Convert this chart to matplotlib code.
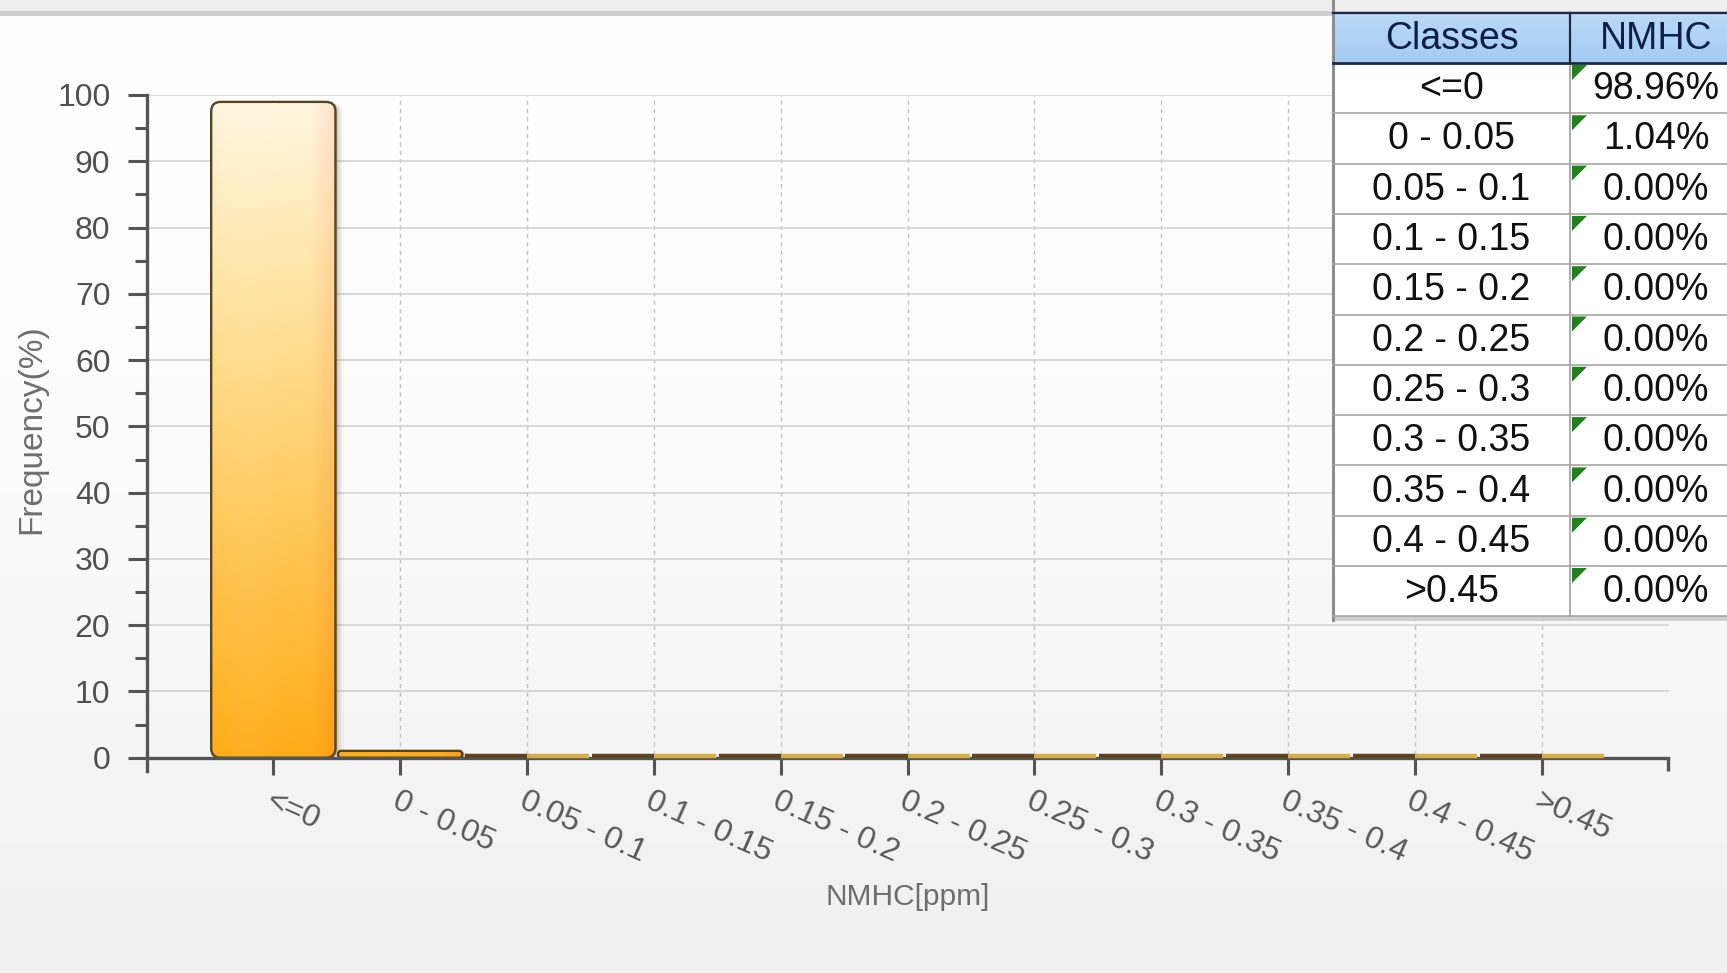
import numpy as np
import matplotlib
matplotlib.use('Agg')
import matplotlib.pyplot as plt
from matplotlib.patches import FancyBboxPatch, Rectangle, Polygon
from matplotlib.colors import LinearSegmentedColormap
from matplotlib.collections import LineCollection
import matplotlib.transforms as mtransforms

# ---------------- data ----------------
classes = ['<=0', '0 - 0.05', '0.05 - 0.1', '0.1 - 0.15', '0.15 - 0.2', '0.2 - 0.25',
           '0.25 - 0.3', '0.3 - 0.35', '0.35 - 0.4', '0.4 - 0.45', '>0.45']
frequency = [98.96, 1.04, 0.0, 0.0, 0.0, 0.0, 0.0, 0.0, 0.0, 0.0, 0.0]
y_ticks = [0, 10, 20, 30, 40, 50, 60, 70, 80, 90, 100]
series_name = 'NMHC'
table_header = 'Classes'
x_label = 'NMHC[ppm]'
y_label = 'Frequency(%)'

plt.rcParams['font.family'] = ['Liberation Sans', 'DejaVu Sans']

W, H = 1727, 973
fig = plt.figure(figsize=(W / 100, H / 100), dpi=100)

# ---------------- background ----------------
bg = fig.add_axes([0, 0, 1, 1], zorder=-10)
grad = np.linspace(0, 1, 256)[:, None]
cmap_bg = LinearSegmentedColormap.from_list('bg', ['#ffffff', '#fbfbfb', '#f0f0f0'])
bg.imshow(grad, extent=(0, W, H, 16), cmap=cmap_bg, aspect='auto', origin='upper')
bg.add_patch(Rectangle((0, 0), W, 11, facecolor='#efefef', edgecolor='none'))
bg.add_patch(Rectangle((0, 11), W, 5, facecolor='#cfcfcf', edgecolor='none'))
bg.set_xlim(0, W)
bg.set_ylim(H, 0)
bg.axis('off')

# ---------------- main axes ----------------
ax_left, ax_bottom, ax_w, ax_h = 146.5, 202.0, 1522.0, 676.0
ax = fig.add_axes([ax_left / W, ax_bottom / H, ax_w / W, ax_h / H])
ax.set_facecolor('none')
xpos = np.arange(len(classes))
XMIN, XMAX, YMIN, YMAX = -1, len(classes), -2, 100
px_x = (XMAX - XMIN) / ax_w      # data units per pixel (x)
px_y = (YMAX - YMIN) / ax_h      # data units per pixel (y)
asp = px_y / px_x

bars = ax.bar(xpos, frequency, width=0.98, color='none', edgecolor='none', zorder=3)

# gradient for filled bars (mapped on the full 0..100 value range)
def bar_gradient(n=256, m=60):
    t = np.linspace(0, 1, n)
    stops_t = [0.0, 0.35, 0.7, 1.0]
    stops_c = np.array([[255, 172, 24], [255, 200, 88], [255, 227, 160], [255, 246, 226]]) / 255.0
    col = np.stack([np.interp(t, stops_t, stops_c[:, k]) for k in range(3)], axis=1)
    img = np.repeat(col[:, None, :], m, axis=1)
    hx = np.linspace(0, 1, m)
    dark = np.clip((hx - 0.8) / 0.2, 0, 1)[None, :, None] * 0.08
    light = np.exp(-((hx - 0.3) / 0.2) ** 2)[None, :, None] * 0.04
    img = img * (1 - dark * np.array([0, 1, 1])) + light * (1 - img)
    return np.clip(img, 0, 1)

grad_img = bar_gradient()
shift_up = mtransforms.ScaledTranslation(0, 2.0 / 100, fig.dpi_scale_trans)
segs_dark, segs_gold = [], []
for rect in bars:
    x0, w, h = rect.get_x(), rect.get_width(), rect.get_height()
    if h > 0:
        r = min(0.075, 0.9 * h / (2 * asp))
        style = f'round,pad=0,rounding_size={r}'
        for k, a in zip([2, 4, 6, 8], [0.18, 0.12, 0.07, 0.04]):
            sh = FancyBboxPatch((x0 + k * px_x, -k * 0.3 * px_y), w, h, boxstyle=style,
                                mutation_aspect=asp, facecolor='#6a5a3a', edgecolor='none',
                                alpha=a, zorder=3)
            ax.add_patch(sh)
        patch = FancyBboxPatch((x0, 0), w, h, boxstyle=style, mutation_aspect=asp,
                               facecolor='none', edgecolor='#55441c', lw=1.7, zorder=5)
        ax.add_patch(patch)
        im = ax.imshow(grad_img, extent=(x0, x0 + w, 0, YMAX), aspect='auto', origin='lower',
                       zorder=4, interpolation='bilinear')
        im.set_clip_path(patch)
    else:
        segs_dark.append([(x0, 0), (x0 + w / 2, 0)])
        segs_gold.append([(x0 + w / 2, 0), (x0 + w, 0)])

ax.add_collection(LineCollection(segs_dark, colors='#5a4522', linewidths=3.2, zorder=6,
                                 transform=ax.transData + shift_up, capstyle='butt'))
ax.add_collection(LineCollection(segs_gold, colors='#d8ad46', linewidths=3.2, zorder=6,
                                 transform=ax.transData + shift_up, capstyle='butt'))

ax.set_xlim(XMIN, XMAX)
ax.set_ylim(YMIN, YMAX)
ax.set_aspect('auto')

# axes styling
for s in ['top', 'right']:
    ax.spines[s].set_visible(False)
ax.spines['bottom'].set_position(('data', 0))
for s in ['left', 'bottom']:
    ax.spines[s].set_color('#555555')
    ax.spines[s].set_linewidth(2.4)
    ax.spines[s].set_zorder(5.5)
ax.plot([XMAX, XMAX], [YMIN, 0], color='#555555', lw=2.4, clip_on=False, zorder=6,
        solid_capstyle='butt')

ax.set_yticks(y_ticks)
ax.set_yticks(np.arange(5, 100, 10), minor=True)
ax.set_yticklabels([str(v) for v in y_ticks])
ax.set_xticks(xpos)
ax.set_xticklabels(classes, rotation=-24, ha='left', va='top', rotation_mode='anchor')

ax.tick_params(axis='y', which='major', direction='out', length=14, width=2.2,
               color='#555555', pad=12, labelsize=23, labelcolor='#505050')
ax.tick_params(axis='y', which='minor', direction='out', length=8.5, width=2.2,
               color='#555555')
ax.tick_params(axis='x', which='major', direction='out', length=12, width=2.2,
               color='#555555', pad=8, labelsize=23, labelcolor='#5a5a5a')

ax.set_axisbelow(True)
ax.grid(axis='y', which='major', color='#d4d4d4', lw=1.2, ls='-')
ax.grid(axis='x', which='major', color='#c2c2c2', lw=1.0, ls=(0, (3, 3)))

ax.set_ylabel(y_label, fontsize=24, color='#6e6e6e')
ax.yaxis.set_label_coords(-0.0654, 0.505)
ax.set_xlabel(x_label, fontsize=21.5, color='#6e6e6e')
ax.xaxis.set_label_coords(0.5, -0.165)

# ---------------- table overlay ----------------
ov = fig.add_axes([0, 0, 1, 1], zorder=10)

tl, cdiv, tr = 1333.0, 1570.0, 1742.0
ttop, hbot = 13.0, 63.0
row_h = 50.3
n = len(classes)
tbot = hbot + n * row_h

ov.add_patch(Rectangle((tl, tbot), tr - tl, 5, facecolor='#d0d0d0', edgecolor='none'))
ov.add_patch(Rectangle((tl, hbot), tr - tl, tbot - hbot, facecolor='white', edgecolor='none'))
hgrad = np.linspace(0, 1, 64)[:, None]
cmap_h = LinearSegmentedColormap.from_list('hd', ['#bcd9f7', '#a3cbf3'])
ov.imshow(hgrad, extent=(tl, tr, hbot, ttop), cmap=cmap_h, aspect='auto', origin='upper',
          zorder=1)

ov.plot([tl, tl], [0, tbot + 4], color='#8e8e8e', lw=2.2, zorder=3)
for i in range(1, n + 1):
    yy = hbot + i * row_h
    ov.plot([tl, tr], [yy, yy], color='#a6a6a6', lw=1.2, zorder=3)
ov.plot([cdiv, cdiv], [hbot, tbot], color='#a0a0a0', lw=1.2, zorder=3)
ov.plot([tl, tr], [ttop, ttop], color='#1c2a48', lw=1.6, zorder=4)
ov.plot([tl, tr], [hbot, hbot], color='#1c2a48', lw=2.0, zorder=4)
ov.plot([cdiv, cdiv], [ttop, hbot], color='#1c2a48', lw=1.6, zorder=4)

c1 = (tl + cdiv) / 2
c2 = (cdiv + tr) / 2
ov.text(c1, (ttop + hbot) / 2 + 1, table_header, ha='center', va='center', fontsize=27,
        color='#0d1f4a', zorder=5)
ov.text(c2, (ttop + hbot) / 2 + 1, series_name, ha='center', va='center', fontsize=27,
        color='#0d1f4a', zorder=5)
for i, (c, v) in enumerate(zip(classes, frequency)):
    ytop = hbot + i * row_h
    yc = ytop + row_h / 2 + 1
    ov.text(c1, yc, c, ha='center', va='center', fontsize=27, color='#111111', zorder=5)
    ov.text(c2, yc, f'{v:.2f}%', ha='center', va='center', fontsize=27, color='#111111',
            zorder=5)
    tri = Polygon([(cdiv + 2, ytop + 2), (cdiv + 17, ytop + 2), (cdiv + 2, ytop + 17)],
                  closed=True, facecolor='#23801f', edgecolor='none', zorder=5)
    ov.add_patch(tri)

ov.set_xlim(0, W)
ov.set_ylim(H, 0)
ov.axis('off')

fig.savefig('out.png', dpi=100)
